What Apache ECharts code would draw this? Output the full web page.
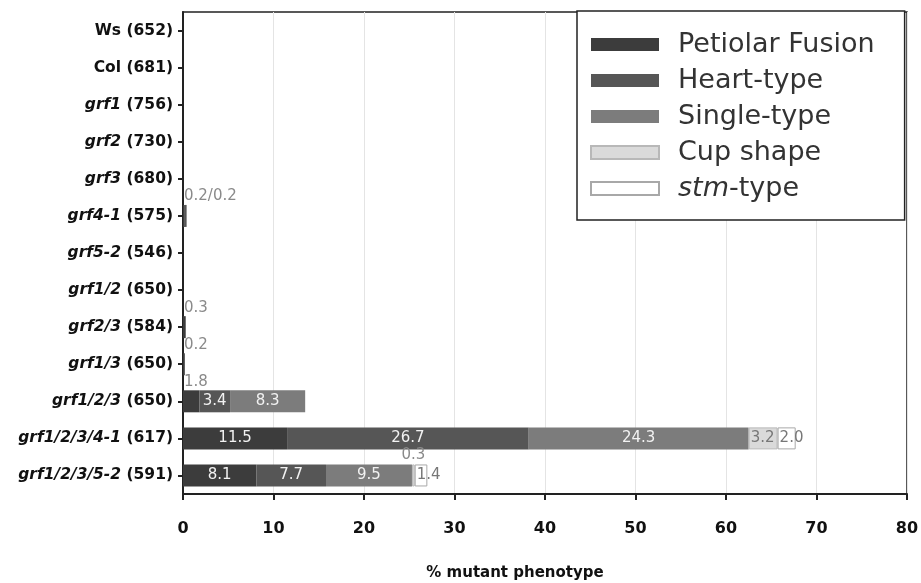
<!DOCTYPE html>
<html>
<head>
<meta charset="utf-8">
<script src="https://cdn.jsdelivr.net/npm/echarts@6/dist/echarts.min.js"></script>
<style>
  html, body { margin: 0; padding: 0; background: #fff; }
  #chart { width: 921px; height: 583px; }
</style>
</head>
<body>
<div id="chart"></div>
<script>
// categories, top to bottom
const categories = [
  "Ws (652)", "Col (681)", "grf1 (756)", "grf2 (730)", "grf3 (680)",
  "grf4-1 (575)", "grf5-2 (546)", "grf1/2 (650)", "grf2/3 (584)",
  "grf1/3 (650)", "grf1/2/3 (650)", "grf1/2/3/4-1 (617)", "grf1/2/3/5-2 (591)"
];
const seriesNames = ["Petiolar Fusion", "Heart-type", "Single-type", "Cup shape", "stm-type"];

// % mutant phenotype
const petiolar = [null, null, null, null, null, 0.2, null, null, 0.3, 0.2, 1.8, 11.5, 8.1];
const heart    = [null, null, null, null, null, 0.2, null, null, null, null, 3.4, 26.7, 7.7];
const single   = [null, null, null, null, null, null, null, null, null, null, 8.3, 24.3, 9.5];
const cup      = [null, null, null, null, null, null, null, null, null, null, null, 3.2, 0.3];
const stm      = [null, null, null, null, null, null, null, null, null, null, null, 2.0, 1.4];

const allValues = [petiolar, heart, single, cup, stm];
const colors = ["#3c3c3c", "#565656", "#7c7c7c", "#dadada", "#ffffff"];
const borders = ["#3c3c3c", "#565656", "#7c7c7c", "#b8b8b8", "#a8a8a8"];
const FONT = "DejaVu Sans";

function fmt(v) { return v.toFixed(1); }

function makeData(si) {
  const vals = allValues[si];
  const dark = si < 3;
  return vals.map((v, i) => {
    if (v == null) return { value: null };
    let label;
    if (dark && v >= 3) {
      label = { show: true, position: "inside", color: "#f2f2f2", formatter: fmt(v) };
    } else if (dark) {
      // small dark values: label above the bar start, merge with next small one
      const prev = si > 0 ? allValues[si - 1][i] : null;
      if (prev != null && prev < 3) {
        label = { show: false };
      } else {
        let txt = fmt(v);
        const next = si < 2 ? allValues[si + 1][i] : null;
        if (next != null && next < 3) txt += "/" + fmt(next);
        label = { show: true, position: [1, -1], align: "left", verticalAlign: "bottom",
                  color: "#8a8a8a", formatter: txt };
      }
    } else if (v >= 1) {
      label = { show: true, position: "insideLeft", distance: 2, color: "#777", formatter: fmt(v) };
    } else {
      label = { show: true, position: "top", distance: 2, color: "#8a8a8a", formatter: fmt(v) };
    }
    return { value: v, label: label };
  });
}

const chart = echarts.init(document.getElementById("chart"));

const option = {
  backgroundColor: "#fff",
  animation: false,
  textStyle: { fontFamily: FONT },
  grid: {
    left: 183, right: 14, top: 12, bottom: 89,
    outerBoundsMode: "none",
    show: true, borderColor: "#222", borderWidth: 1.5, backgroundColor: "transparent"
  },
  legend: {
    orient: "vertical",
    left: 577, top: 11,
    padding: [20, 30, 18, 13],
    backgroundColor: "#fff",
    borderColor: "#222", borderWidth: 1.5,
    icon: "rect",
    itemWidth: 68, itemHeight: 13, itemGap: 9,
    data: seriesNames,
    formatter: n => n === "stm-type" ? "{i|stm}-type" : n,
    textStyle: {
      fontFamily: FONT, fontSize: 27, color: "#333", padding: [0, 0, 0, 14],
      rich: { i: { fontFamily: FONT, fontSize: 27, fontStyle: "italic", color: "#333" } }
    }
  },
  xAxis: {
    type: "value",
    min: 0, max: 80, interval: 10,
    name: "% mutant phenotype",
    nameLocation: "middle",
    nameGap: 72,
    nameTextStyle: { fontFamily: FONT, fontSize: 15, fontWeight: "bold", color: "#111",
                     padding: [0, 60, 0, 0] },
    axisLine: { show: true, lineStyle: { color: "#222", width: 2 } },
    axisTick: { show: true, length: 6, lineStyle: { color: "#222", width: 2 } },
    axisLabel: { fontFamily: FONT, fontSize: 16, fontWeight: "bold", color: "#111", margin: 27 },
    splitLine: { show: true, lineStyle: { color: "#e4e4e4", width: 1 } }
  },
  yAxis: {
    type: "category",
    inverse: true,
    data: categories,
    axisLine: { show: true, lineStyle: { color: "#222", width: 2 } },
    axisTick: { show: true, length: 5, alignWithLabel: true, lineStyle: { color: "#222", width: 2 } },
    axisLabel: {
      margin: 10,
      fontFamily: FONT, fontSize: 15.5, fontWeight: "bold", color: "#111",
      formatter: c => {
        if (c.startsWith("grf")) {
          const p = c.split(" ");
          return "{i|" + p[0] + "} " + p[1];
        }
        return c;
      },
      rich: { i: { fontFamily: FONT, fontSize: 15.5, fontWeight: "bold", fontStyle: "italic", color: "#111" } }
    }
  },
  series: seriesNames.map((name, si) => ({
    name: name,
    type: "bar",
    stack: "total",
    barWidth: 22,
    itemStyle: { color: colors[si], borderColor: borders[si], borderWidth: si >= 3 ? 1 : 0 },
    label: { fontFamily: FONT, fontSize: 15 },
    data: makeData(si)
  }))
};

chart.setOption(option);
</script>
</body>
</html>
